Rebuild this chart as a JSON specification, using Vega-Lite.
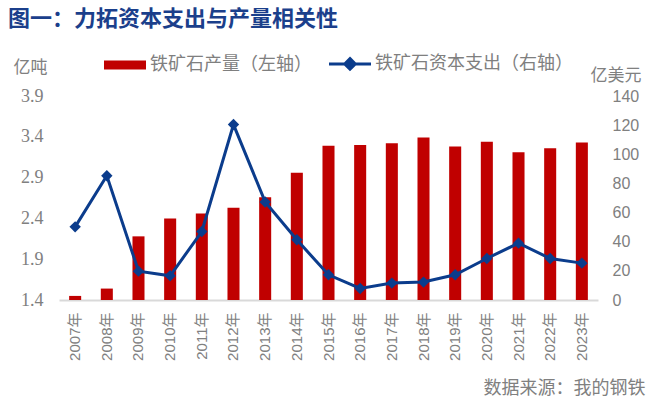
{
  "$schema": "https://vega.github.io/schema/vega-lite/v6.json",
  "width": 539,
  "height": 204,
  "autosize": {"type": "none"},
  "padding": {"left": 59, "top": 96, "right": 52, "bottom": 113},
  "background": "white",
  "title": {
    "text": "图一：力拓资本支出与产量相关性",
    "anchor": "start",
    "frame": "group",
    "dx": -51,
    "offset": 24,
    "font": "Noto Sans CJK SC",
    "fontSize": 22,
    "fontWeight": "bold",
    "color": "#1B3F8B"
  },
  "config": {
    "view": {"stroke": null},
    "axis": {"grid": false, "ticks": false, "labelOverlap": false}
  },
  "data": {
    "values": [
      {"year": "2007年", "output": 1.45, "capex": 50.2},
      {"year": "2008年", "output": 1.54, "capex": 85.3},
      {"year": "2009年", "output": 2.18, "capex": 19.8},
      {"year": "2010年", "output": 2.40, "capex": 16.6},
      {"year": "2011年", "output": 2.46, "capex": 47.0},
      {"year": "2012年", "output": 2.53, "capex": 120.4},
      {"year": "2013年", "output": 2.66, "capex": 67.3},
      {"year": "2014年", "output": 2.96, "capex": 41.3},
      {"year": "2015年", "output": 3.29, "capex": 17.3},
      {"year": "2016年", "output": 3.30, "capex": 7.9},
      {"year": "2017年", "output": 3.32, "capex": 11.6},
      {"year": "2018年", "output": 3.39, "capex": 12.3},
      {"year": "2019年", "output": 3.28, "capex": 17.3},
      {"year": "2020年", "output": 3.34, "capex": 28.5},
      {"year": "2021年", "output": 3.21, "capex": 39.0},
      {"year": "2022年", "output": 3.26, "capex": 28.5},
      {"year": "2023年", "output": 3.33, "capex": 25.3}
    ]
  },
  "encoding": {
    "x": {
      "field": "year",
      "type": "nominal",
      "sort": null,
      "scale": {"paddingInner": 0.62, "paddingOuter": 0.32},
      "axis": {
        "orient": "bottom",
        "domainColor": "#D9D9D9",
        "domainWidth": 2,
        "labelAngle": -90,
        "labelFont": "Liberation Sans, Noto Sans CJK SC",
        "labelFontSize": 15,
        "labelColor": "#808080",
        "labelPadding": 12,
        "title": "数据来源：我的钢铁",
        "titleX": 586,
        "titleY": 88,
        "titleAlign": "right",
        "titleBaseline": "middle",
        "titleFont": "Noto Sans CJK SC",
        "titleFontSize": 18,
        "titleFontWeight": "normal",
        "titleColor": "#808080"
      }
    }
  },
  "layer": [
    {
      "mark": {"type": "bar"},
      "encoding": {
        "y": {
          "field": "output",
          "type": "quantitative",
          "scale": {"domain": [1.4, 3.9], "zero": false, "nice": false},
          "axis": {
            "orient": "left",
            "domain": false,
            "values": [1.4, 1.9, 2.4, 2.9, 3.4, 3.9],
            "format": ".1f",
            "labelFont": "Liberation Serif",
            "labelFontSize": 18,
            "labelColor": "#808080",
            "labelPadding": 16,
            "title": "亿吨",
            "titleAngle": 0,
            "titleX": -46,
            "titleY": -29,
            "titleAlign": "left",
            "titleBaseline": "middle",
            "titleFont": "Noto Sans CJK SC",
            "titleFontSize": 17,
            "titleFontWeight": "normal",
            "titleColor": "#808080"
          }
        },
        "y2": {"datum": 1.4},
        "color": {
          "datum": "铁矿石产量（左轴）",
          "scale": {
            "domain": ["铁矿石产量（左轴）", "铁矿石资本支出（右轴）"],
            "range": ["#C00000", "#0B3C8C"]
          },
          "legend": {
            "orient": "none",
            "legendX": 57,
            "legendY": -41.5,
            "direction": "horizontal",
            "title": null,
            "padding": 0,
            "columnPadding": 11,
            "symbolSize": 1764,
            "labelOffset": 16,
            "labelLimit": 400,
            "labelFont": "Noto Sans CJK SC",
            "labelFontSize": 18,
            "labelColor": "#7F7F7F",
            "encode": {
              "symbols": {
                "update": {
                  "shape": {"signal": "datum.value === '铁矿石产量（左轴）' ? 'M-1,-0.22H1V0.22H-1Z' : 'M-1,0L1,0M0,-0.25L0.25,0L0,0.25L-0.25,0Z'"},
                  "fill": {"signal": "datum.value === '铁矿石产量（左轴）' ? '#C00000' : '#0B3C8C'"},
                  "stroke": {"signal": "datum.value === '铁矿石产量（左轴）' ? '#C00000' : '#0B3C8C'"},
                  "strokeWidth": {"signal": "datum.value === '铁矿石产量（左轴）' ? 0 : 3"},
                  "opacity": {"value": 1}
                }
              }
            }
          }
        }
      }
    },
    {
      "layer": [
        {
          "mark": {"type": "line", "strokeWidth": 3},
          "encoding": {
            "color": {"datum": "铁矿石资本支出（右轴）"}
          }
        },
        {
          "mark": {"type": "point", "shape": "diamond", "filled": true, "size": 130, "opacity": 1},
          "encoding": {
            "color": {"datum": "铁矿石资本支出（右轴）"}
          }
        }
      ],
      "encoding": {
        "y": {
          "field": "capex",
          "type": "quantitative",
          "scale": {"domain": [0, 140], "nice": false},
          "axis": {
            "orient": "right",
            "domain": false,
            "values": [0, 20, 40, 60, 80, 100, 120, 140],
            "labelFont": "Liberation Sans",
            "labelFontSize": 16,
            "labelColor": "#808080",
            "labelPadding": 14,
            "title": "亿美元",
            "titleAngle": 0,
            "titleX": -8,
            "titleY": -21,
            "titleAlign": "left",
            "titleBaseline": "middle",
            "titleFont": "Noto Sans CJK SC",
            "titleFontSize": 17,
            "titleFontWeight": "normal",
            "titleColor": "#808080"
          }
        }
      }
    }
  ],
  "resolve": {"scale": {"y": "independent"}, "axis": {"y": "independent"}}
}
